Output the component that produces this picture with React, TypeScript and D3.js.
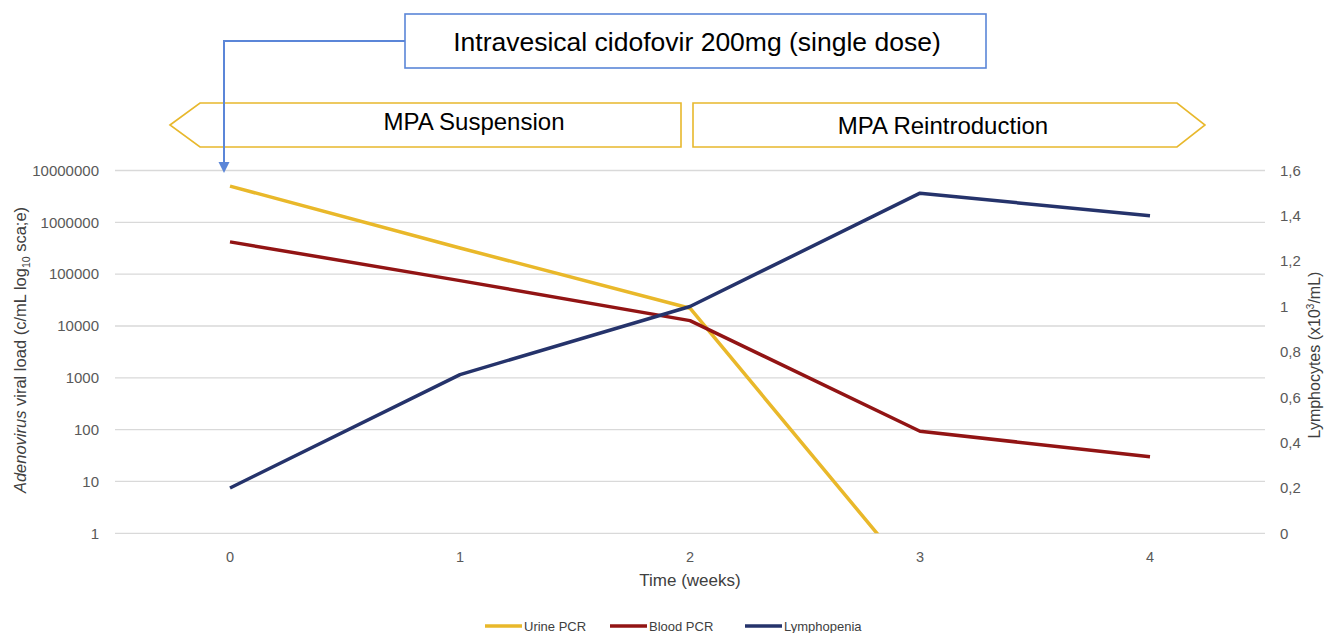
import React from "react";
import * as d3 from "d3";

const weeks = [0, 1, 2, 3, 4];
const urinePCR = [5000000, 320000, 22000, 0.1];
const bloodPCR = [420000, 75000, 12700, 93, 30];
const lymphopenia = [0.2, 0.7, 1.0, 1.5, 1.4];
const leftTicks = [1, 10, 100, 1000, 10000, 100000, 1000000, 10000000];
const rightTicks = [0, 0.2, 0.4, 0.6, 0.8, 1.0, 1.2, 1.4, 1.6];
const seriesNames = ["Urine PCR", "Blood PCR", "Lymphopenia"];
const colors = ["#E9B82A", "#921414", "#25336B"];

const W = 1325, H = 633;
const plotL = 115, plotR = 1265, plotT = 170.5, plotB = 533.3;

export default function App() {
  const x = d3.scaleLinear().domain([-0.5, 4.5]).range([plotL, plotR]);
  const yL = d3.scaleLog().domain([1, 10000000]).range([plotB, plotT]);
  const yR = d3.scaleLinear().domain([0, 1.6]).range([plotB, plotT]);

  const lineL = d3.line<number>().x((d, i) => x(weeks[i])).y((d) => yL(d));
  const lineR = d3.line<number>().x((d, i) => x(weeks[i])).y((d) => yR(d));

  const fmtR = (v: number) => (v === 0 ? "0" : v === 1 ? "1" : d3.format(".1f")(v).replace(".", ","));
  const font = "'Liberation Sans', Arial, Helvetica, sans-serif";
  const tickColor = "#595959";
  const arrowBlue = "#5B86D8";
  const gold = "#E8B82C";

  const legendX = [485, 610, 745];

  return (
    <svg width={W} height={H} style={{ position: "absolute", left: 0, top: 0, background: "#fff" }} fontFamily={font}>
      <defs>
        <clipPath id="plotclip">
          <rect x={plotL} y={plotT - 5} width={plotR - plotL} height={plotB - plotT + 5} />
        </clipPath>
      </defs>
      {/* gridlines */}
      {leftTicks.map((t) => (
        <line key={t} x1={plotL} x2={plotR} y1={yL(t)} y2={yL(t)} stroke="#D9D9D9" strokeWidth={1.3} />
      ))}
      {/* left ticks */}
      {leftTicks.map((t) => (
        <text key={"l" + t} x={99} y={yL(t)} dy="0.35em" textAnchor="end" fontSize={15} fill={tickColor}>
          {String(t)}
        </text>
      ))}
      {/* right ticks */}
      {rightTicks.map((t) => (
        <text key={"r" + t} x={1280} y={yR(t)} dy="0.35em" textAnchor="start" fontSize={15} fill={tickColor}>
          {fmtR(t)}
        </text>
      ))}
      {/* x ticks */}
      {weeks.map((w) => (
        <text key={"x" + w} x={x(w)} y={557} dy="0.35em" textAnchor="middle" fontSize={14.5} fill={tickColor}>
          {w}
        </text>
      ))}
      {/* axis titles */}
      <text x={690} y={580} dy="0.35em" textAnchor="middle" fontSize={17} fill="#404040">Time (weeks)</text>
      <text transform={`translate(26,350) rotate(-90)`} textAnchor="middle" fontSize={16.5} fill="#404040">
        <tspan fontStyle="italic">Adenovirus</tspan>
        <tspan> viral load (c/mL log</tspan>
        <tspan fontSize={10.5} dy="4">10</tspan>
        <tspan dy="-4"> sca;e)</tspan>
      </text>
      <text transform={`translate(1320,355) rotate(-90)`} textAnchor="middle" fontSize={16} fill="#404040">
        <tspan>Lymphocytes (x10</tspan>
        <tspan fontSize={10} dy="-6">3</tspan>
        <tspan dy="6">/mL)</tspan>
      </text>
      {/* series */}
      <g clipPath="url(#plotclip)">
        <path d={lineL(urinePCR) || ""} fill="none" stroke={colors[0]} strokeWidth={3.5} strokeLinejoin="round" />
      </g>
      <path d={lineL(bloodPCR) || ""} fill="none" stroke={colors[1]} strokeWidth={3.5} strokeLinejoin="round" />
      <path d={lineR(lymphopenia) || ""} fill="none" stroke={colors[2]} strokeWidth={3.5} strokeLinejoin="round" />
      {/* legend */}
      {seriesNames.map((n, i) => (
        <g key={n}>
          <line x1={legendX[i]} x2={legendX[i] + 37} y1={626} y2={626} stroke={colors[i]} strokeWidth={3.5} />
          <text x={legendX[i] + 39} y={626} dy="0.35em" fontSize={13} fill="#404040">{n}</text>
        </g>
      ))}
      {/* phase arrows */}
      <path d="M170,125 L200,103 L681,103 L681,147 L200,147 Z" fill="#fff" stroke={gold} strokeWidth={1.6} />
      <text x={474} y={122} dy="0.35em" textAnchor="middle" fontSize={24} fill="#000">MPA Suspension</text>
      <path d="M693,103 L1177,103 L1205,125 L1177,147 L693,147 Z" fill="#fff" stroke={gold} strokeWidth={1.6} />
      <text x={943} y={126} dy="0.35em" textAnchor="middle" fontSize={24} fill="#000">MPA Reintroduction</text>
      {/* annotation */}
      <path d="M405,41 L224,41 L224,163" fill="none" stroke={arrowBlue} strokeWidth={2} />
      <path d="M218.5,162 L229.5,162 L224,173 Z" fill={arrowBlue} />
      <rect x={405} y={14} width={581} height={54} fill="#fff" stroke={arrowBlue} strokeWidth={1.6} />
      <text x={697} y={42} dy="0.35em" textAnchor="middle" fontSize={26.5} fill="#000">Intravesical cidofovir 200mg (single dose)</text>
    </svg>
  );
}
